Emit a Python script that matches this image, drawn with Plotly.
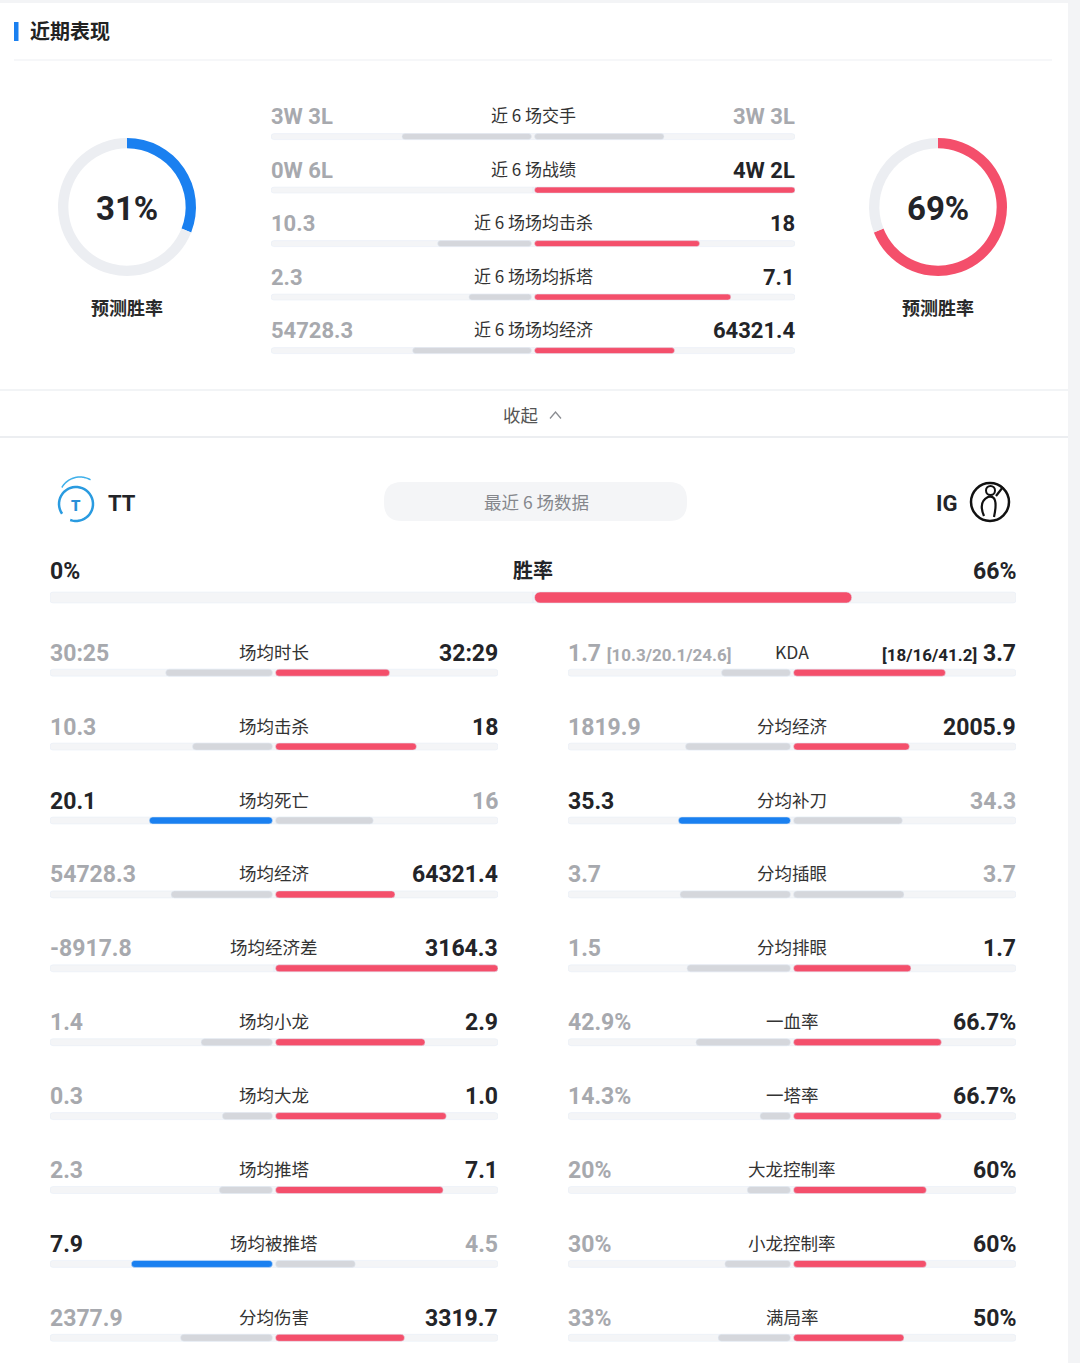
import math
import plotly.graph_objects as go

W, H = 1080, 1363

# =============================================================================
# DATA
# =============================================================================

TEAM_A = 'TT'
TEAM_B = 'IG'

predict_a = 31
predict_b = 69

recent_labels = ['近 6 场交手', '近 6 场战绩', '近 6 场场均击杀', '近 6 场场均拆塔', '近 6 场场均经济']
recent_a_text = ['3W 3L', '0W 6L', '10.3', '2.3', '54728.3']
recent_b_text = ['3W 3L', '4W 2L', '18', '7.1', '64321.4']
recent_a_val = [3, 0, 10.3, 2.3, 54728.3]
recent_b_val = [3, 4, 18, 7.1, 64321.4]

win_label = '胜率'
win_a = 0
win_b = 66

left_labels = ['场均时长', '场均击杀', '场均死亡', '场均经济', '场均经济差',
               '场均小龙', '场均大龙', '场均推塔', '场均被推塔', '分均伤害']
left_a_text = ['30:25', '10.3', '20.1', '54728.3', '-8917.8', '1.4', '0.3', '2.3', '7.9', '2377.9']
left_b_text = ['32:29', '18', '16', '64321.4', '3164.3', '2.9', '1.0', '7.1', '4.5', '3319.7']
left_a_val = [30 + 25 / 60, 10.3, 20.1, 54728.3, -8917.8, 1.4, 0.3, 2.3, 7.9, 2377.9]
left_b_val = [32 + 29 / 60, 18, 16, 64321.4, 3164.3, 2.9, 1.0, 7.1, 4.5, 3319.7]

right_labels = ['KDA', '分均经济', '分均补刀', '分均插眼', '分均排眼',
                '一血率', '一塔率', '大龙控制率', '小龙控制率', '满局率']
right_a_text = ['1.7', '1819.9', '35.3', '3.7', '1.5', '42.9%', '14.3%', '20%', '30%', '33%']
right_b_text = ['3.7', '2005.9', '34.3', '3.7', '1.7', '66.7%', '66.7%', '60%', '60%', '50%']
right_a_val = [1.7, 1819.9, 35.3, 3.7, 1.5, 42.9, 14.3, 20, 30, 33]
right_b_val = [3.7, 2005.9, 34.3, 3.7, 1.7, 66.7, 66.7, 60, 60, 50]
kda_a_detail = '[10.3/20.1/24.6]'
kda_b_detail = '[18/16/41.2]'

# =============================================================================
# STYLE
# =============================================================================

BLUE = '#1a80f0'
RED = '#f44f6b'
BAR_GREY = '#d5d7dc'
TRACK = '#f4f5f7'
RING_GREY = '#eceef2'
DARK = '#232428'
MUTED = '#a7a9ae'
LINE = '#eef0f3'
CJK = 'Noto Sans CJK SC'
NUM = 'Roboto, Noto Sans CJK SC'


def fx(px):
    return px / W


def fy(py):
    return 1 - py / H


def shares(a, b, pct):
    """Bar share of half-width: rates use /100, others a/(a+b)."""
    if pct:
        return a / 100, b / 100
    a, b = max(a, 0), max(b, 0)
    s = a + b
    return (a / s, b / s) if s else (0, 0)


def side_style(a, b):
    """(text_a, text_b, bar_a, bar_b) colours - the larger value is highlighted."""
    if a > b:
        return DARK, MUTED, BLUE, BAR_GREY
    if b > a:
        return MUTED, DARK, BAR_GREY, RED
    return MUTED, MUTED, BAR_GREY, BAR_GREY


def note(x, y, text, size, color, family=CJK, weight=400, xanchor='center'):
    """Annotation placed in page pixels."""
    return dict(x=fx(x), y=fy(y), xref='paper', yref='paper', xanchor=xanchor, yanchor='middle',
                showarrow=False, text=text, font=dict(family=family, size=size, color=color, weight=weight))


fig = go.Figure()
annotations = []
layout_axes = {}


def add_block(xid, yid, x_px, rows, row0_px, step_px, top_px, bottom_px,
              bar_px, shift, num_size, label_size, a_vals, b_vals, pct_flags,
              a_texts, b_texts, labels, force_dark=False, label_weight=400,
              label_color='#333333', make_y=True):
    half_px = (x_px[1] - x_px[0]) / 2
    gap = 1.5 / half_px
    xkey = 'xaxis' + xid[1:]
    layout_axes[xkey] = dict(domain=[fx(x_px[0]), fx(x_px[1])], range=[-1, 1],
                             visible=False, fixedrange=True, anchor=yid)
    if make_y:
        ykey = 'yaxis' + yid[1:]
        layout_axes[ykey] = dict(domain=[fy(bottom_px), fy(top_px)],
                                 range=[(bottom_px - row0_px) / step_px, (top_px - row0_px) / step_px],
                                 visible=False, fixedrange=True, anchor=xid)
    idx = list(range(rows))
    width = bar_px / step_px

    sa, sb, ca, cb = [], [], [], []
    for i in idx:
        a_s, b_s = shares(a_vals[i], b_vals[i], pct_flags[i])
        ta, tb, ba, bb = side_style(a_vals[i], b_vals[i])
        if force_dark:
            ta = tb = DARK
        sa.append(a_s)
        sb.append(b_s)
        ca.append(ba)
        cb.append(bb)

        annotations.append(dict(x=-1, y=i, xref=xid, yref=yid, xanchor='left', yanchor='middle',
                                xshift=-2, yshift=shift, showarrow=False, text=a_texts[i],
                                font=dict(family=NUM, size=num_size, color=ta, weight=700)))
        annotations.append(dict(x=1, y=i, xref=xid, yref=yid, xanchor='right', yanchor='middle',
                                xshift=2, yshift=shift, showarrow=False, text=b_texts[i],
                                font=dict(family=NUM, size=num_size, color=tb, weight=700)))
        annotations.append(dict(x=0, y=i, xref=xid, yref=yid, xanchor='center', yanchor='middle',
                                yshift=shift + 2, showarrow=False, text=labels[i],
                                font=dict(family=CJK, size=label_size, color=label_color,
                                          weight=label_weight)))

    # background track
    fig.add_trace(go.Bar(y=idx, x=[2] * rows, base=[-1] * rows, orientation='h', width=width,
                         marker=dict(color=TRACK, cornerradius=3), xaxis=xid, yaxis=yid,
                         hoverinfo='skip', showlegend=False))
    # team A (left, grows leftwards from the centre)
    fig.add_trace(go.Bar(y=idx, x=[max(s - gap, 0) for s in sa], base=[-s for s in sa],
                         orientation='h', width=width,
                         marker=dict(color=ca, cornerradius=bar_px / 2), xaxis=xid, yaxis=yid,
                         hoverinfo='skip', showlegend=False))
    # team B (right)
    fig.add_trace(go.Bar(y=idx, x=[max(s - gap, 0) for s in sb], base=[gap] * rows,
                         orientation='h', width=width,
                         marker=dict(color=cb, cornerradius=bar_px / 2), xaxis=xid, yaxis=yid,
                         hoverinfo='skip', showlegend=False))


# recent form block (top)
add_block('x', 'y', (271, 795), len(recent_labels), 136.6, 53.5, 100, 372, 6, 20, 22, 17,
          recent_a_val, recent_b_val, [False] * len(recent_labels),
          recent_a_text, recent_b_text, recent_labels)

# win rate row
add_block('x2', 'y2', (50, 1016), 1, 597.5, 60, 555, 630, 11, 26, 23, 20,
          [win_a], [win_b], [True], [f'{win_a}%'], [f'{win_b}%'], [win_label],
          force_dark=True, label_weight=700, label_color=DARK)

# left stat column
add_block('x3', 'y3', (50, 498), len(left_labels), 672.7, 73.9, 628, 1363, 7, 19.5, 23, 17.5,
          left_a_val, left_b_val, [t.endswith('%') for t in left_a_text],
          left_a_text, left_b_text, left_labels)

# right stat column (KDA row carries extra detail)
r_a_text = list(right_a_text)
r_b_text = list(right_b_text)
r_a_text[0] = f'{right_a_text[0]} <span style="font-size:17px">{kda_a_detail}</span>'
r_b_text[0] = f'<span style="font-size:17px">{kda_b_detail}</span> {right_b_text[0]}'
add_block('x4', 'y3', (568, 1016), len(right_labels), 672.7, 73.9, 628, 1363, 7, 19.5, 23, 17.5,
          right_a_val, right_b_val, [t.endswith('%') for t in right_a_text],
          r_a_text, r_b_text, right_labels, make_y=False)

# =============================================================================
# PREDICTED WIN RATE DONUTS
# =============================================================================

for val, other, col, cx in [(predict_a, predict_b, BLUE, 127), (predict_b, predict_a, RED, 938)]:
    fig.add_trace(go.Pie(values=[val, other], marker=dict(colors=[col, RING_GREY]),
                         hole=0.85, sort=False, direction='clockwise', rotation=0,
                         textinfo='none', hoverinfo='skip', showlegend=False,
                         domain=dict(x=[fx(cx - 69), fx(cx + 69)], y=[fy(276), fy(138)])))
    annotations.append(note(cx, 209, f'{val}%', 33, DARK, family=NUM, weight=700))
    annotations.append(note(cx, 307, '预测胜率', 18, '#2a2a2a', weight=600))

# =============================================================================
# PAGE CHROME
# =============================================================================


def rounded_rect(x0, y0, x1, y1, r):
    pts = [('M', x0 + r, y0), ('L', x1 - r, y0), ('Q', x1, y0, x1, y0 + r), ('L', x1, y1 - r),
           ('Q', x1, y1, x1 - r, y1), ('L', x0 + r, y1), ('Q', x0, y1, x0, y1 - r),
           ('L', x0, y0 + r), ('Q', x0, y0, x0 + r, y0)]
    out = []
    for p in pts:
        cmd, vals = p[0], p[1:]
        coords = []
        for j in range(0, len(vals), 2):
            coords.append(f'{fx(vals[j]):.5f},{fy(vals[j + 1]):.5f}')
        out.append(cmd + ' '.join(coords))
    return ' '.join(out) + ' Z'


def arc_path(cx, cy, r, a0, a1, n=40):
    pts = []
    for k in range(n + 1):
        a = math.radians(a0 + (a1 - a0) * k / n)
        pts.append(f'{fx(cx + r * math.cos(a)):.5f},{fy(cy - r * math.sin(a)):.5f}')
    return 'M' + ' L'.join(pts)


def poly(points):
    return 'M' + ' L'.join(f'{fx(x):.5f},{fy(y):.5f}' for x, y in points)


shapes = [
    dict(type='rect', xref='paper', yref='paper', x0=0, x1=fx(1068), y0=0, y1=fy(3),
         fillcolor='white', line_width=0, layer='below'),
    dict(type='rect', xref='paper', yref='paper', x0=fx(14), x1=fx(18.5), y0=fy(41), y1=fy(22),
         fillcolor=BLUE, line_width=0, layer='below'),
    dict(type='line', xref='paper', yref='paper', x0=fx(14), x1=fx(1052), y0=fy(60), y1=fy(60),
         line=dict(color=LINE, width=1.2), layer='below'),
    dict(type='line', xref='paper', yref='paper', x0=0, x1=fx(1068), y0=fy(390), y1=fy(390),
         line=dict(color=LINE, width=1.5), layer='below'),
    dict(type='line', xref='paper', yref='paper', x0=0, x1=fx(1068), y0=fy(437), y1=fy(437),
         line=dict(color='#eceef1', width=2), layer='below'),
    dict(type='path', xref='paper', yref='paper', path=rounded_rect(384, 482, 687, 521, 18),
         fillcolor=TRACK, line_width=0, layer='below'),
    dict(type='path', xref='paper', yref='paper', path=poly([(550, 418.5), (555.5, 412), (561, 418.5)]),
         line=dict(color='#8a8c91', width=1.3)),
    # TT logo
    dict(type='path', xref='paper', yref='paper', path=arc_path(76, 504, 17, 215, -110),
         line=dict(color='#2a9be0', width=2.5)),
    dict(type='path', xref='paper', yref='paper', path=arc_path(80, 498, 21, 150, 60),
         line=dict(color='#3fb0ea', width=1.5)),
    # IG logo
    dict(type='circle', xref='paper', yref='paper', x0=fx(971), x1=fx(1009), y0=fy(521), y1=fy(483),
         line=dict(color='#111111', width=2.5)),
    dict(type='circle', xref='paper', yref='paper', x0=fx(986), x1=fx(995), y0=fy(495), y1=fy(486),
         line=dict(color='#111111', width=2)),
    dict(type='path', xref='paper', yref='paper',
         path=f'M{fx(984):.5f},{fy(516):.5f} Q{fx(978):.5f},{fy(502):.5f} {fx(988):.5f},{fy(497):.5f} '
              f'Q{fx(999):.5f},{fy(494):.5f} {fx(994):.5f},{fy(517):.5f}',
         line=dict(color='#111111', width=2.2)),
    dict(type='path', xref='paper', yref='paper', path=poly([(996, 496), (1003, 487)]),
         line=dict(color='#111111', width=2.2)),
]

annotations += [
    note(28, 31, '近期表现', 20, '#222222', weight=600, xanchor='left'),
    note(520, 414, '收起', 17.5, '#555555'),
    note(536, 501, '最近 6 场数据', 17.5, '#85878c'),
    note(76, 506, 'T', 15, '#2a8fd8', family=NUM, weight=900),
    note(106, 503, TEAM_A, 22, DARK, family=NUM, weight=700, xanchor='left'),
    note(959, 503, TEAM_B, 22, DARK, family=NUM, weight=700, xanchor='right'),
]

fig.update_layout(
    width=W, height=H,
    margin=dict(l=0, r=0, t=0, b=0),
    paper_bgcolor='#f3f4f6',
    plot_bgcolor='rgba(0,0,0,0)',
    barmode='overlay',
    showlegend=False,
    shapes=shapes,
    annotations=annotations,
    **layout_axes,
)

# the page's default body margin would push the figure 8px off the window edge
fig.write_html('out.html', config={'displayModeBar': False},
               post_script="document.body.style.margin='0';document.body.style.overflow='hidden';")
